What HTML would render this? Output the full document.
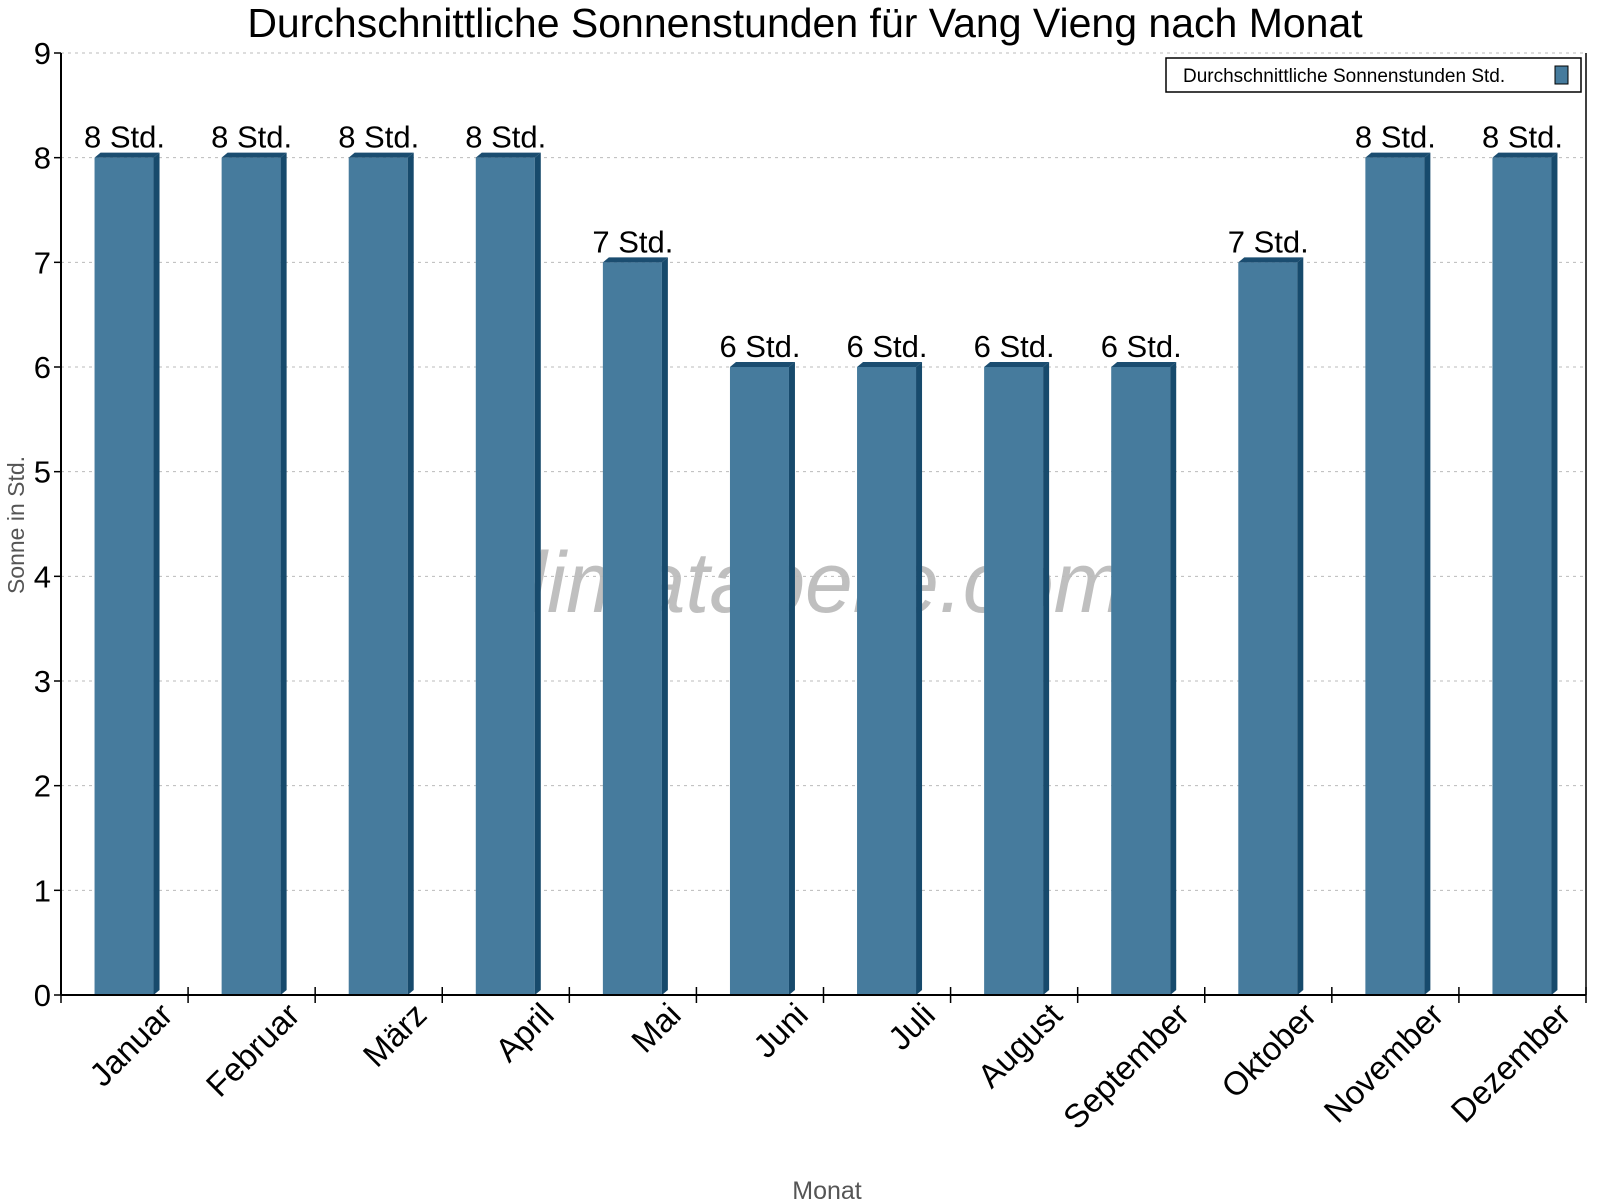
<!DOCTYPE html>
<html><head><meta charset="utf-8"><style>
body{margin:0;background:#fff;}
svg{display:block;font-family:"Liberation Sans",sans-serif;}
</style></head><body>
<svg id="chart" width="1600" height="1200" viewBox="0 0 1600 1200" xmlns="http://www.w3.org/2000/svg">
<text x="805" y="37" font-size="41" text-anchor="middle" fill="#000">Durchschnittliche Sonnenstunden für Vang Vieng nach Monat</text>
<text x="805" y="612" font-size="86" font-style="italic" text-anchor="middle" fill="#000" fill-opacity="0.25">klimatabelle.com</text>
<g id="grid"></g>
<g id="bars"></g>
<g id="axes"></g>
<text transform="translate(24,525) rotate(-90)" font-size="23" text-anchor="middle" fill="#555">Sonne in Std.</text>
<text x="827" y="1199" font-size="25" text-anchor="middle" fill="#555">Monat</text>
<g>
<rect x="1166" y="58" width="415" height="34" fill="#fff" stroke="#000" stroke-width="1.5"/>
<text x="1183" y="82" font-size="19" fill="#000">Durchschnittliche Sonnenstunden Std.</text>
<rect x="1555" y="66" width="13" height="18" fill="#467b9d" stroke="#000" stroke-width="1"/>
</g>
</svg>
<script>
const categories=["Januar","Februar","März","April","Mai","Juni","Juli","August","September","Oktober","November","Dezember"];
const values=[8,8,8,8,7,6,6,6,6,7,8,8];
const valueLabels=["8 Std.","8 Std.","8 Std.","8 Std.","7 Std.","6 Std.","6 Std.","6 Std.","6 Std.","7 Std.","8 Std.","8 Std."];
const yTicks=[0,1,2,3,4,5,6,7,8,9];
const NS="http://www.w3.org/2000/svg";
const X0=61,X1=1586,Y0=995,Y1=53,YMAX=9;
const cw=(X1-X0)/categories.length;
const yS=v=>Y0-(v/YMAX)*(Y0-Y1);
const xC=i=>X0+cw*(i+0.5);
function mk(tag,attrs,parent){const e=document.createElementNS(NS,tag);for(const k in attrs)e.setAttribute(k,attrs[k]);parent.appendChild(e);return e;}
const grid=document.getElementById('grid'),bars=document.getElementById('bars'),axes=document.getElementById('axes');
yTicks.forEach(t=>{
  if(t>0){const l=mk('line',{x1:X0,x2:X1,y1:yS(t),y2:yS(t),stroke:'#bbb','stroke-dasharray':'3,4','stroke-width':1},grid);
  
  }
  const tk=mk('line',{x1:X0-7,x2:X0,y1:yS(t),y2:yS(t),stroke:'#000','stroke-width':1.5},axes);
  
  
  const tl=mk('text',{x:X0-10,y:yS(t)+11,'font-size':31,'text-anchor':'end',fill:'#000'},axes);
  tl.textContent=t;
  
  
});
values.forEach((v,i)=>{
  const c=xC(i),l=c-30,r=c+29,d=6,top=yS(v);
  const g=mk('g',{},bars);
  
  
  mk('rect',{x:l,y:top,width:r-l,height:Y0-top,fill:'#467b9d'},g);
  mk('polygon',{points:`${l},${top} ${l+d},${top-5} ${r+d},${top-5} ${r},${top}`,fill:'#1b4d70'},g);
  mk('polygon',{points:`${r},${top} ${r+d},${top-5} ${r+d},${Y0-5} ${r},${Y0}`,fill:'#174a6c'},g);
  const vl=mk('text',{x:c,y:top-10,'font-size':31,'text-anchor':'middle',fill:'#000'},bars);
  vl.textContent=valueLabels[i];
  
  
  const xl=mk('text',{transform:`translate(${c+50},${Y0+22}) rotate(-45)`,'font-size':33,'text-anchor':'end',fill:'#000'},axes);
  xl.textContent=categories[i];
  
  
});
for(let i=0;i<=categories.length;i++){
  const x=X0+cw*i;
  const t=mk('line',{x1:x,x2:x,y1:Y0-8,y2:Y0+8,stroke:'#000','stroke-width':1.5},axes);
  
  
}
const ax=mk('line',{x1:X0,x2:X1,y1:Y0,y2:Y0,stroke:'#000','stroke-width':2},axes);


const ay=mk('line',{x1:X0,x2:X0,y1:Y1,y2:Y0,stroke:'#000','stroke-width':2},axes);


const ar=mk('line',{x1:X1,x2:X1,y1:Y1,y2:Y0,stroke:'#000','stroke-width':1.5},axes);


</script>
</body></html>
